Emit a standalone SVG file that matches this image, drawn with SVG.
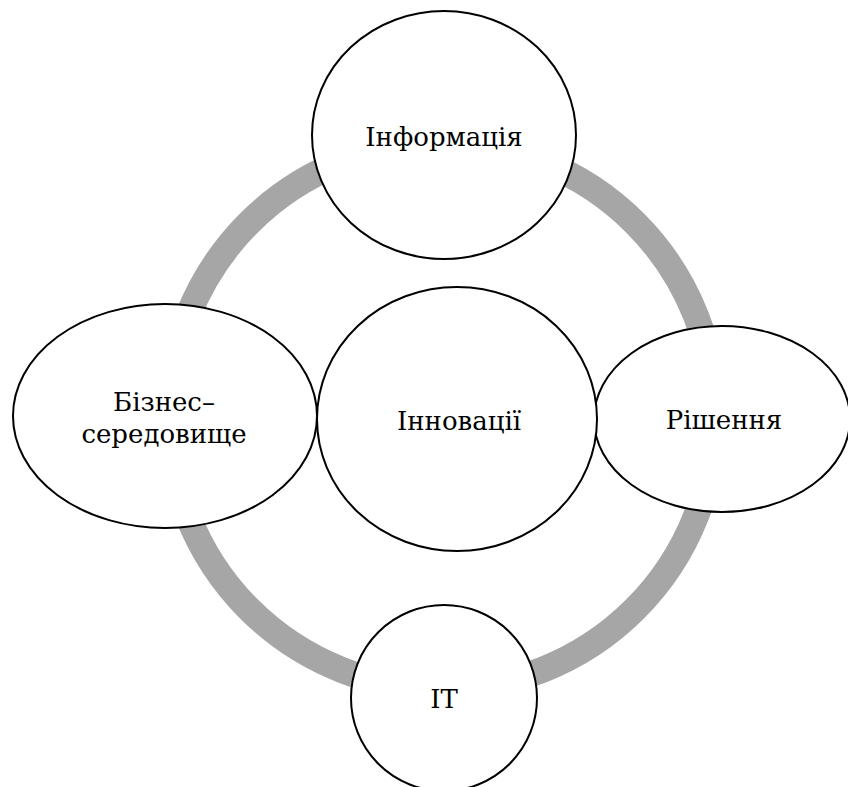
<svg xmlns="http://www.w3.org/2000/svg" width="848" height="787" viewBox="0 0 848 787">
  <style>
    .node { fill: #ffffff; stroke: #000000; stroke-width: 2; }
    .ring { fill: none; stroke: #a6a6a6; stroke-width: 26; }
    text { font-family: "DejaVu Serif", "Liberation Serif", serif; font-size: 26px; fill: #000000; text-anchor: middle; }
  </style>
  <!-- connecting ring behind the nodes -->
  <g id="connectors">
    <circle class="ring" cx="442" cy="416" r="273"/>
  </g>
  <g id="node-info">
    <ellipse class="node" cx="444" cy="135" rx="132" ry="124"/>
    <text x="444" y="146">Інформація</text>
  </g>
  <g id="node-business">
    <ellipse class="node" cx="165" cy="416" rx="152" ry="112"/>
    <text x="164" y="411">Бізнес–</text>
    <text x="164" y="443">середовище</text>
  </g>
  <g id="node-decisions">
    <ellipse class="node" cx="722" cy="419" rx="128" ry="93"/>
    <text x="724" y="429">Рішення</text>
  </g>
  <g id="node-it">
    <ellipse class="node" cx="444" cy="698" rx="93" ry="93"/>
    <text x="444" y="708">IT</text>
  </g>
  <g id="node-innovations">
    <ellipse class="node" cx="457" cy="419" rx="140" ry="132"/>
    <text x="459" y="430">Інновації</text>
  </g>
</svg>
